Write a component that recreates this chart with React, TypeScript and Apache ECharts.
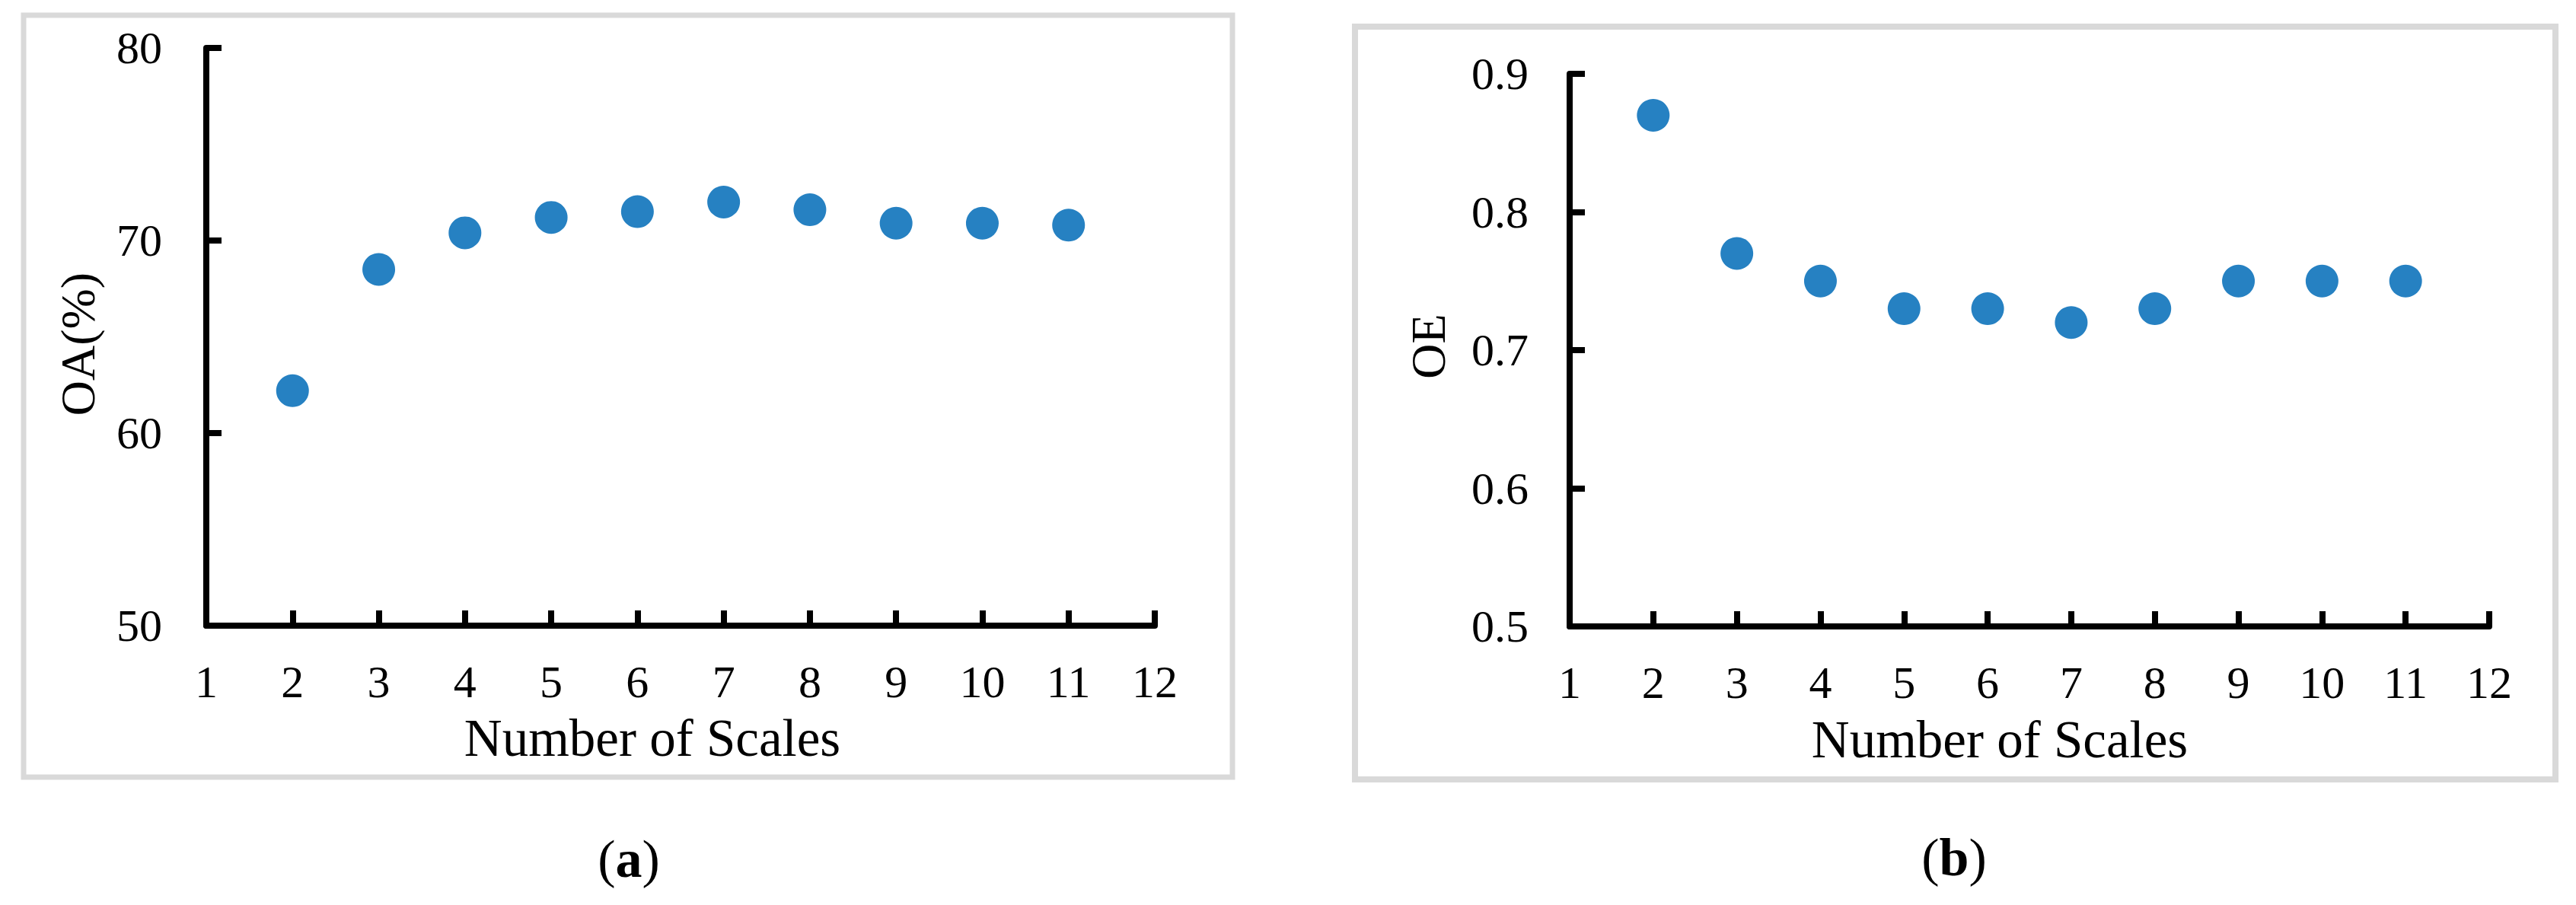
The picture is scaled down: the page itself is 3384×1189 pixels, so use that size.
import React, { useEffect, useRef } from "react";
import * as echarts from "echarts";

const scales = [2, 3, 4, 5, 6, 7, 8, 9, 10, 11];
const oaValues = [62.2, 68.5, 70.4, 71.2, 71.5, 72.0, 71.6, 70.9, 70.9, 70.8];
const oeValues = [0.87, 0.77, 0.75, 0.73, 0.73, 0.72, 0.73, 0.75, 0.75, 0.75];
const xTitle = "Number of Scales";
const yTitleA = "OA(%)";
const yTitleB = "OE";

const FONT = "'Liberation Serif', 'Times New Roman', serif";
const BLUE = "#2681C2";

export default function App() {
  const ref = useRef<HTMLDivElement>(null);
  useEffect(() => {
    if (!ref.current) return;
    const chart = echarts.init(ref.current, null, { renderer: "svg" });
    const axisCommon = {
      axisLine: { show: true, lineStyle: { color: "#000", width: 8 } },
      axisTick: { show: true, inside: true, length: 20, lineStyle: { color: "#000", width: 8 } },
      splitLine: { show: false },
    };
    const xAxis = (gridIndex: number) => ({
      type: "value",
      gridIndex,
      min: 1,
      max: 12,
      interval: 1,
      ...axisCommon,
      axisLabel: { fontFamily: FONT, fontSize: 60, color: "#000", margin: 44 },
    });
    const option = {
      animation: false,
      backgroundColor: "#fff",
      grid: [
        { left: 271, top: 63, width: 1246, height: 759 },
        { left: 2062, top: 97, width: 1208, height: 726 },
      ],
      xAxis: [xAxis(0), xAxis(1)],
      yAxis: [
        {
          type: "value",
          gridIndex: 0,
          min: 50,
          max: 80,
          interval: 10,
          ...axisCommon,
          axisLabel: { fontFamily: FONT, fontSize: 60, color: "#000", margin: 58 },
        },
        {
          type: "value",
          gridIndex: 1,
          min: 0.5,
          max: 0.9,
          interval: 0.1,
          ...axisCommon,
          axisLabel: {
            fontFamily: FONT,
            fontSize: 60,
            color: "#000",
            margin: 54,
            formatter: (v: number) => v.toFixed(1),
          },
        },
      ],
      series: [
        {
          type: "scatter",
          xAxisIndex: 0,
          yAxisIndex: 0,
          symbolSize: 43,
          itemStyle: { color: BLUE, opacity: 1 },
          data: scales.map((s, i) => [s, oaValues[i]]),
        },
        {
          type: "scatter",
          xAxisIndex: 1,
          yAxisIndex: 1,
          symbolSize: 43,
          itemStyle: { color: BLUE, opacity: 1 },
          data: scales.map((s, i) => [s, oeValues[i]]),
        },
      ],
      graphic: [
        {
          type: "rect",
          shape: { x: 31, y: 20, width: 1588, height: 1001 },
          style: { fill: "none", stroke: "#d9d9d9", lineWidth: 7 },
          z: -1,
        },
        {
          type: "rect",
          shape: { x: 1780, y: 35, width: 1577, height: 989 },
          style: { fill: "none", stroke: "#d9d9d9", lineWidth: 8 },
          z: -1,
        },
        {
          type: "text",
          x: 102,
          y: 452,
          rotation: Math.PI / 2,
          style: {
            text: yTitleA,
            font: `64px ${FONT}`,
            fill: "#000",
            align: "center",
            verticalAlign: "middle",
          },
        },
        {
          type: "text",
          x: 1876,
          y: 455,
          rotation: Math.PI / 2,
          style: {
            text: yTitleB,
            font: `64px ${FONT}`,
            fill: "#000",
            align: "center",
            verticalAlign: "middle",
          },
        },
        {
          type: "text",
          x: 857,
          y: 970,
          style: {
            text: xTitle,
            font: `69px ${FONT}`,
            fill: "#000",
            align: "center",
            verticalAlign: "middle",
          },
        },
        {
          type: "text",
          x: 2627,
          y: 972,
          style: {
            text: xTitle,
            font: `69px ${FONT}`,
            fill: "#000",
            align: "center",
            verticalAlign: "middle",
          },
        },
        {
          type: "text",
          x: 826,
          y: 1128,
          style: {
            text: "{n|(}{b|a}{n|)}",
            align: "center",
            verticalAlign: "middle",
            rich: {
              n: { fontFamily: FONT, fontSize: 70, fill: "#000", fontWeight: "normal" },
              b: { fontFamily: FONT, fontSize: 70, fill: "#000", fontWeight: "bold" },
            },
          },
        },
        {
          type: "text",
          x: 2567,
          y: 1126,
          style: {
            text: "{n|(}{b|b}{n|)}",
            align: "center",
            verticalAlign: "middle",
            rich: {
              n: { fontFamily: FONT, fontSize: 70, fill: "#000", fontWeight: "normal" },
              b: { fontFamily: FONT, fontSize: 70, fill: "#000", fontWeight: "bold" },
            },
          },
        },
      ],
    };
    chart.setOption(option as any);
    return () => chart.dispose();
  }, []);
  return (
    <div
      ref={ref}
      style={{ position: "absolute", left: 0, top: 0, width: 3384, height: 1189, background: "#fff" }}
    />
  );
}
